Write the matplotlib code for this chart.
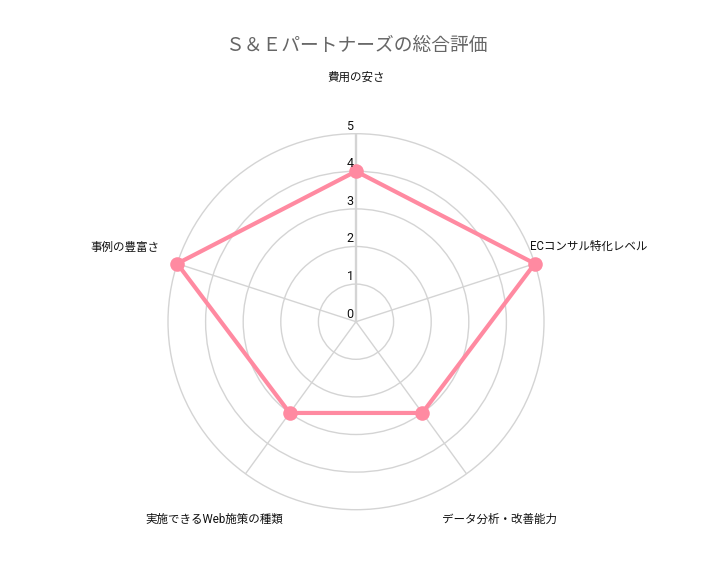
import numpy as np
import matplotlib
matplotlib.use("Agg")
import matplotlib.pyplot as plt

plt.rcParams['font.family'] = ['Roboto', 'Noto Sans CJK JP', 'DejaVu Sans']

title = "Ｓ＆Ｅパートナーズの総合評価"
categories = ["費用の安さ", "ECコンサル特化レベル", "データ分析・改善能力",
              "実施できるWeb施策の種類", "事例の豊富さ"]
values = [4, 5, 3, 3, 5]
ticks = [0, 1, 2, 3, 4, 5]

W, H = 712, 571
fig = plt.figure(figsize=(W / 100, H / 100), dpi=100)
cx, cy, R = 356, 321.7, 188
ax = fig.add_axes([(cx - R) / W, (H - cy - R) / H, 2 * R / W, 2 * R / H], projection='polar')
ax.set_theta_offset(np.pi / 2)
ax.set_theta_direction(-1)

n = len(categories)
angles = np.arange(n) * 2 * np.pi / n

ax.set_ylim(0, ticks[-1])
ax.set_yticks(ticks[1:])
ax.set_yticklabels([])
ax.set_xticks(angles)
ax.set_xticklabels([])
ax.grid(True, color='#d4d4d4', linewidth=1.0)
ax.spines['polar'].set_visible(False)
ax.tick_params(length=0)
for ln in ax.yaxis.get_gridlines():
    ln.set_clip_on(False)
gl = ax.xaxis.get_gridlines()
if gl:
    gl[0].set_linewidth(1.7)
    gl[0].set_color('#d4d4d4')

col = '#ff8aa1'
th = np.append(angles, angles[0])
vv = np.append(values, values[0])
ax.plot(th, vv, color=col, linewidth=3.0, zorder=5, clip_on=False)
ax.scatter(angles, values, s=110, color=col, zorder=6, clip_on=False, linewidths=0)

for t in ticks:
    ax.annotate(str(t), xy=(0, t), xytext=(-6, 1), textcoords='offset pixels',
                ha='center', va='bottom', fontsize=9, color='#111111', zorder=7)

offsets = [(0, 56, 'center'), (-5, 17.5, 'left'), (32.5, -46, 'center'),
           (-31.7, -46, 'center'), (-18, 16.5, 'right')]
for a, lab, (dx, dy, ha) in zip(angles, categories, offsets):
    ax.annotate(lab, xy=(a, ticks[-1]), xytext=(dx, dy), textcoords='offset pixels',
                ha=ha, va='center', fontsize=8.3, color='#111111', annotation_clip=False)

fig.text(cx / W, 1 - 45 / H, title, ha='center', va='center', fontsize=13.5, color='#666666',
         family=['Noto Sans CJK JP', 'DejaVu Sans'])

fig.savefig('out.png', dpi=100, facecolor='white')
